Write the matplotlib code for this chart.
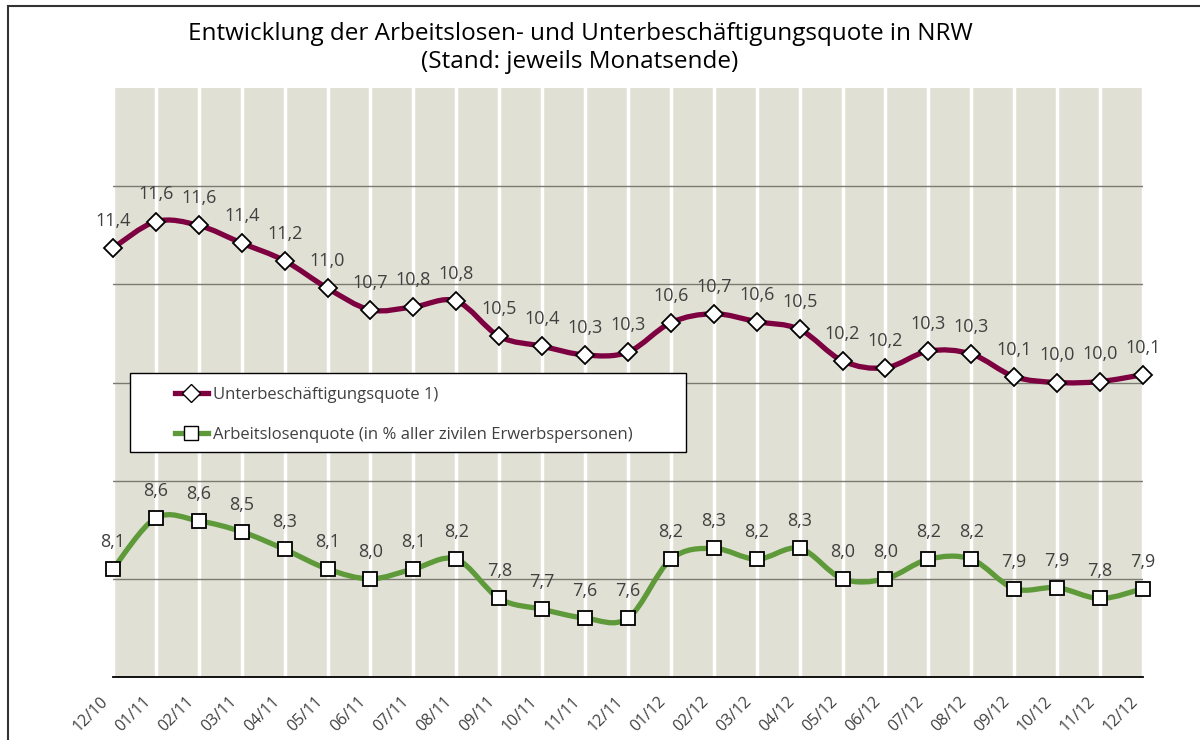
import numpy as np
import matplotlib.pyplot as plt
import matplotlib.transforms as mtransforms
from matplotlib.path import Path
from matplotlib.patches import PathPatch, Rectangle
from matplotlib.lines import Line2D

months = ['12/10', '01/11', '02/11', '03/11', '04/11', '05/11', '06/11', '07/11', '08/11',
          '09/11', '10/11', '11/11', '12/11', '01/12', '02/12', '03/12', '04/12', '05/12',
          '06/12', '07/12', '08/12', '09/12', '10/12', '11/12', '12/12']
unterbeschaeftigung = [11.37, 11.64, 11.60, 11.42, 11.24, 10.96, 10.74, 10.77, 10.83, 10.47,
                       10.37, 10.28, 10.31, 10.61, 10.70, 10.62, 10.54, 10.22, 10.15, 10.32,
                       10.29, 10.06, 10.00, 10.01, 10.08]
arbeitslosen = [8.1, 8.62, 8.59, 8.48, 8.3, 8.1, 8.0, 8.1, 8.2, 7.8, 7.69, 7.6, 7.6,
                8.2, 8.31, 8.2, 8.31, 8.0, 8.0, 8.2, 8.2, 7.9, 7.91, 7.8, 7.9]

plt.rcParams['font.family'] = ['Open Sans', 'DejaVu Sans']

purple = '#7d0040'
green = '#5e9a3a'
txt = '#404040'


def smooth_path(x, y):
    # Excel-style smoothed line: Catmull-Rom segments as cubic Bezier curves
    pts = np.column_stack([x, y])
    n = len(pts)
    verts = [pts[0]]
    codes = [Path.MOVETO]
    for i in range(n - 1):
        p0 = pts[max(i - 1, 0)]
        p1 = pts[i]
        p2 = pts[i + 1]
        p3 = pts[min(i + 2, n - 1)]
        c1 = p1 + (p2 - p0) / 6
        c2 = p2 - (p3 - p1) / 6
        verts += [c1, c2, p2]
        codes += [Path.CURVE4] * 3
    return Path(verts, codes)


fig = plt.figure(figsize=(12, 7.4), dpi=100)
ax = fig.add_axes([113 / 1200, 1 - 677 / 740, 1030 / 1200, 589 / 740])
ax.set_facecolor('#e0e0d4')

x = np.arange(len(months))
ax.set_xlim(0, len(months) - 1)
ax.set_ylim(7, 13)

for xi in x:
    ax.axvline(xi, color='white', lw=2.5, zorder=1)
for yv in [8, 9, 10, 11, 12]:
    ax.axhline(yv, color='#7a7a70', lw=1.0, zorder=1.5)

for vals, col, mk, ms in [(unterbeschaeftigung, purple, 'D', 9),
                          (arbeitslosen, green, 's', 10)]:
    ax.add_patch(PathPatch(smooth_path(x, vals), fill=False, edgecolor=col, lw=3.8,
                           zorder=2, capstyle='round'))
    ax.plot(x, vals, ls='none', marker=mk, markersize=ms, markerfacecolor='white',
            markeredgecolor='black', markeredgewidth=1.3, zorder=3, clip_on=False)
    for xi, v in zip(x, vals):
        ax.annotate(f'{v:.1f}'.replace('.', ','), (xi, v), xytext=(0, 13),
                    textcoords='offset points', ha='center', va='bottom',
                    fontsize=13, color=txt, zorder=4)

for s in ['top', 'right', 'left']:
    ax.spines[s].set_visible(False)
ax.spines['bottom'].set_color('black')
ax.spines['bottom'].set_linewidth(1.3)
ax.set_yticks([])
ax.set_xticks(x)
ax.set_xticklabels(months, rotation=45, ha='right', rotation_mode='anchor',
                   fontsize=11.5, color=txt)
ax.tick_params(axis='x', length=0, pad=12)
shift = mtransforms.ScaledTranslation(-0.13, 0, fig.dpi_scale_trans)
for lbl in ax.get_xticklabels():
    lbl.set_transform(lbl.get_transform() + shift)

# legend frame drawn separately so the entries can sit further in
ax.add_patch(Rectangle((0.0165, 0.382), 0.54, 0.134, transform=ax.transAxes,
                       facecolor='white', edgecolor='black', lw=1.0, zorder=5))
handles = [Line2D([0], [0], color=purple, lw=3.8, marker='D', markersize=9,
                  markerfacecolor='white', markeredgecolor='black'),
           Line2D([0], [0], color=green, lw=3.8, marker='s', markersize=10,
                  markerfacecolor='white', markeredgecolor='black')]
leg = ax.legend(handles, ['Unterbeschäftigungsquote 1)',
                          'Arbeitslosenquote (in % aller zivilen Erwerbspersonen)'],
                loc='upper left', bbox_to_anchor=(0.06, 0.493), frameon=False,
                fontsize=12, labelcolor=txt, handlelength=2.0, handletextpad=0.3,
                borderpad=0, labelspacing=1.45, borderaxespad=0)
leg.set_zorder(6)

fig.text(580 / 1200, 1 - 48 / 740,
         'Entwicklung der Arbeitslosen- und Unterbeschäftigungsquote in NRW\n'
         '(Stand: jeweils Monatsende)',
         ha='center', va='center', fontsize=17.5, color='black', linespacing=1.2)

fig.patches.append(Rectangle((8 / 1200, -0.05), 1.1, 1.05 - 6 / 740, fill=False,
                             edgecolor='#333333', lw=1.5, transform=fig.transFigure))

fig.savefig('out.png', dpi=100)
